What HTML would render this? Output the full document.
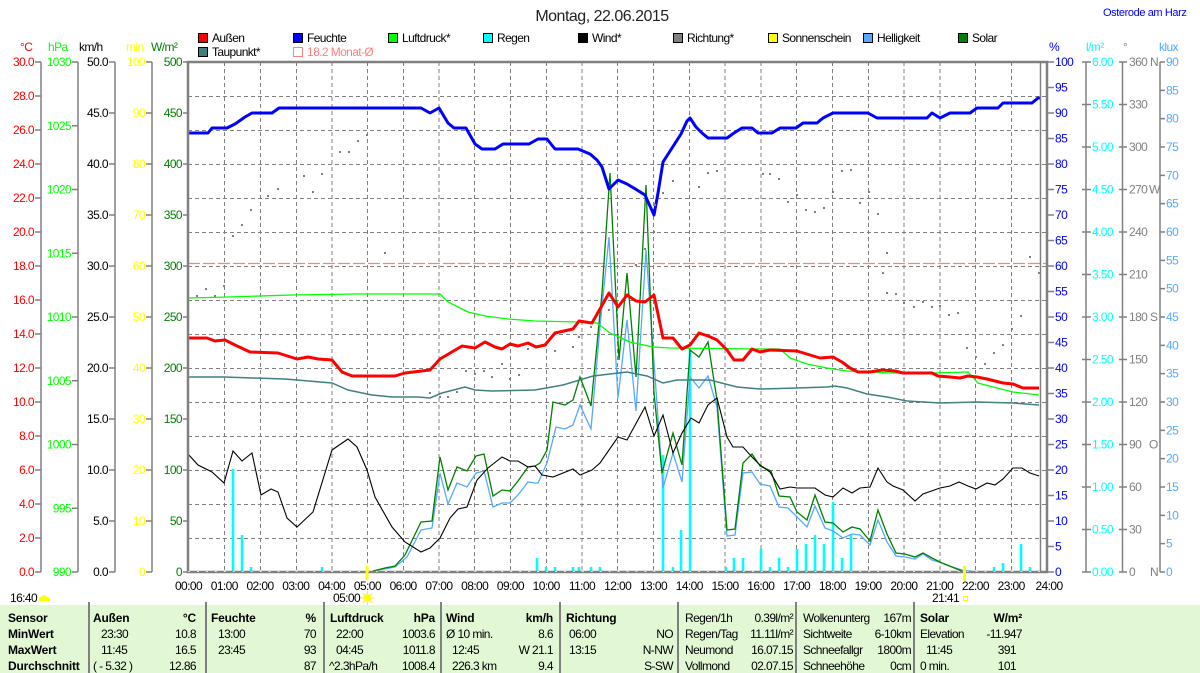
<!DOCTYPE html>
<html><head><meta charset="utf-8"><style>
html,body{margin:0;padding:0;background:#fff;}
svg{display:block;font-family:"Liberation Sans",Arial,sans-serif;}
.t{font-size:12px;letter-spacing:-0.6px;}
.b{font-size:12px;font-weight:bold;letter-spacing:-0.2px;}
</style></head><body>
<svg width="1200" height="673" viewBox="0 0 1200 673" xmlns="http://www.w3.org/2000/svg">
<rect width="1200" height="673" fill="#fff"/>
<!-- title -->
<text x="602" y="21" font-size="16" letter-spacing="-0.5" text-anchor="middle" fill="#222">Montag, 22.06.2015</text>
<text x="1103" y="16" font-size="11" letter-spacing="-0.4" fill="#0000ff">Osterode am Harz</text>
<!-- legend -->
<g class="t" fill="#000">
<rect x="198.5" y="33.5" width="9" height="9" fill="#ff0000" stroke="#000"/><text x="212" y="42">Außen</text>
<rect x="293.5" y="33.5" width="9" height="9" fill="#0000ff" stroke="#000"/><text x="307" y="42">Feuchte</text>
<rect x="388.5" y="33.5" width="9" height="9" fill="#00ff00" stroke="#000"/><text x="402" y="42">Luftdruck*</text>
<rect x="483.5" y="33.5" width="9" height="9" fill="#00ffff" stroke="#000"/><text x="497" y="42">Regen</text>
<rect x="578.5" y="33.5" width="9" height="9" fill="#000000" stroke="#000"/><text x="592" y="42">Wind*</text>
<rect x="673.5" y="33.5" width="9" height="9" fill="#808080" stroke="#000"/><text x="687" y="42">Richtung*</text>
<rect x="768.5" y="33.5" width="9" height="9" fill="#ffff00" stroke="#000"/><text x="782" y="42">Sonnenschein</text>
<rect x="863.5" y="33.5" width="9" height="9" fill="#55aaff" stroke="#000"/><text x="877" y="42">Helligkeit</text>
<rect x="958.5" y="33.5" width="9" height="9" fill="#008000" stroke="#000"/><text x="972" y="42">Solar</text>
<rect x="198.5" y="47.5" width="9" height="9" fill="#408080" stroke="#000"/><text x="212" y="56">Taupunkt*</text>
<rect x="293.5" y="47.5" width="9" height="9" fill="none" stroke="#ff8080"/><text x="307" y="56" fill="#ff8080">18.2 Monat-Ø</text>
</g>
<!-- axis headers -->
<g class="t">
<text x="20" y="51" fill="#ff0000">°C</text>
<text x="48" y="51" fill="#00ff00">hPa</text>
<text x="79" y="51" fill="#000">km/h</text>
<text x="126" y="51" fill="#ffff00">min</text>
<text x="151" y="51" fill="#008000">W/m²</text>
<text x="1049" y="51" fill="#0000ff">%</text>
<text x="1086" y="51" fill="#00ffff">l/m²</text>
<text x="1123" y="51" fill="#808080">°</text>
<text x="1159" y="51" fill="#55aaff">klux</text>
</g>
<!-- left axes lines & ticks -->
<g stroke="#808080" stroke-width="1.5" fill="none">
<path d="M41 62V572M78 62V572M115 62V572M152 62V572"/>
<path d="M35 62h6M35 96h6M35 130h6M35 164h6M35 198h6M35 232h6M35 266h6M35 300h6M35 334h6M35 368h6M35 402h6M35 436h6M35 470h6M35 504h6M35 538h6M35 572h6"/>
<path d="M72 62h6M72 125.75h6M72 189.5h6M72 253.25h6M72 317h6M72 380.75h6M72 444.5h6M72 508.25h6M72 572h6"/>
<path d="M109 62h6M109 113h6M109 164h6M109 215h6M109 266h6M109 317h6M109 368h6M109 419h6M109 470h6M109 521h6M109 572h6"/>
<path d="M146 62h6M146 113h6M146 164h6M146 215h6M146 266h6M146 317h6M146 368h6M146 419h6M146 470h6M146 521h6M146 572h6"/>
<path d="M183 62h5M183 113h5M183 164h5M183 215h5M183 266h5M183 317h5M183 368h5M183 419h5M183 470h5M183 521h5M183 572h5"/>
<!-- right -->
<path d="M1048 62h6M1048 87.5h6M1048 113h6M1048 138.5h6M1048 164h6M1048 189.5h6M1048 215h6M1048 240.5h6M1048 266h6M1048 291.5h6M1048 317h6M1048 342.5h6M1048 368h6M1048 393.5h6M1048 419h6M1048 444.5h6M1048 470h6M1048 495.5h6M1048 521h6M1048 546.5h6M1048 572h6"/>
<path d="M1086 62V572M1122.5 62V572M1160 62V572"/>
<path d="M1082 62h9M1082 104.5h9M1082 147h9M1082 189.5h9M1082 232h9M1082 274.5h9M1082 317h9M1082 359.5h9M1082 402h9M1082 444.5h9M1082 487h9M1082 529.5h9M1082 572h9"/>
<path d="M1119 62h8M1119 104.5h8M1119 147h8M1119 189.5h8M1119 232h8M1119 274.5h8M1119 317h8M1119 359.5h8M1119 402h8M1119 444.5h8M1119 487h8M1119 529.5h8M1119 572h8"/>
<path d="M1160 62h5M1160 90.33h5M1160 118.67h5M1160 147h5M1160 175.33h5M1160 203.67h5M1160 232h5M1160 260.33h5M1160 288.67h5M1160 317h5M1160 345.33h5M1160 373.67h5M1160 402h5M1160 430.33h5M1160 458.67h5M1160 487h5M1160 515.33h5M1160 543.67h5M1160 572h5"/>
</g>
<!-- left labels -->
<g class="t" fill="#ff0000" text-anchor="end">
<text x="34" y="66">30.0</text><text x="34" y="100">28.0</text><text x="34" y="134">26.0</text><text x="34" y="168">24.0</text><text x="34" y="202">22.0</text><text x="34" y="236">20.0</text><text x="34" y="270">18.0</text><text x="34" y="304">16.0</text><text x="34" y="338">14.0</text><text x="34" y="372">12.0</text><text x="34" y="406">10.0</text><text x="34" y="440">8.0</text><text x="34" y="474">6.0</text><text x="34" y="508">4.0</text><text x="34" y="542">2.0</text><text x="34" y="576">0.0</text>
</g>
<g class="t" fill="#00ff00" text-anchor="end">
<text x="71" y="66">1030</text><text x="71" y="129.75">1025</text><text x="71" y="193.5">1020</text><text x="71" y="257.25">1015</text><text x="71" y="321">1010</text><text x="71" y="384.75">1005</text><text x="71" y="448.5">1000</text><text x="71" y="512.25">995</text><text x="71" y="576">990</text>
</g>
<g class="t" fill="#000" text-anchor="end">
<text x="108" y="66">50.0</text><text x="108" y="117">45.0</text><text x="108" y="168">40.0</text><text x="108" y="219">35.0</text><text x="108" y="270">30.0</text><text x="108" y="321">25.0</text><text x="108" y="372">20.0</text><text x="108" y="423">15.0</text><text x="108" y="474">10.0</text><text x="108" y="525">5.0</text><text x="108" y="576">0.0</text>
</g>
<g class="t" fill="#ffff00" text-anchor="end">
<text x="145" y="66">100</text><text x="145" y="117">90</text><text x="145" y="168">80</text><text x="145" y="219">70</text><text x="145" y="270">60</text><text x="145" y="321">50</text><text x="145" y="372">40</text><text x="145" y="423">30</text><text x="145" y="474">20</text><text x="145" y="525">10</text><text x="145" y="576">0</text>
</g>
<g class="t" fill="#008000" text-anchor="end">
<text x="182" y="66">500</text><text x="182" y="117">450</text><text x="182" y="168">400</text><text x="182" y="219">350</text><text x="182" y="270">300</text><text x="182" y="321">250</text><text x="182" y="372">200</text><text x="182" y="423">150</text><text x="182" y="474">100</text><text x="182" y="525">50</text><text x="182" y="576">0</text>
</g>
<!-- right labels -->
<g class="t" fill="#0000ff">
<text x="1055" y="66">100</text><text x="1055" y="91.5">95</text><text x="1055" y="117">90</text><text x="1055" y="142.5">85</text><text x="1055" y="168">80</text><text x="1055" y="193.5">75</text><text x="1055" y="219">70</text><text x="1055" y="244.5">65</text><text x="1055" y="270">60</text><text x="1055" y="295.5">55</text><text x="1055" y="321">50</text><text x="1055" y="346.5">45</text><text x="1055" y="372">40</text><text x="1055" y="397.5">35</text><text x="1055" y="423">30</text><text x="1055" y="448.5">25</text><text x="1055" y="474">20</text><text x="1055" y="499.5">15</text><text x="1055" y="525">10</text><text x="1055" y="550.5">5</text><text x="1055" y="576">0</text>
</g>
<g class="t" fill="#00ffff">
<text x="1092" y="66">6.00</text><text x="1092" y="108.5">5.50</text><text x="1092" y="151">5.00</text><text x="1092" y="193.5">4.50</text><text x="1092" y="236">4.00</text><text x="1092" y="278.5">3.50</text><text x="1092" y="321">3.00</text><text x="1092" y="363.5">2.50</text><text x="1092" y="406">2.00</text><text x="1092" y="448.5">1.50</text><text x="1092" y="491">1.00</text><text x="1092" y="533.5">0.50</text><text x="1092" y="576">0.00</text>
</g>
<g class="t" fill="#808080">
<text x="1129" y="66">360</text><text x="1129" y="108.5">330</text><text x="1129" y="151">300</text><text x="1129" y="193.5">270</text><text x="1129" y="236">240</text><text x="1129" y="278.5">210</text><text x="1129" y="321">180</text><text x="1129" y="363.5">150</text><text x="1129" y="406">120</text><text x="1129" y="448.5">90</text><text x="1129" y="491">60</text><text x="1129" y="533.5">30</text><text x="1129" y="576">0</text>
<text x="1150" y="66">N</text><text x="1149" y="193.5">W</text><text x="1150" y="321">S</text><text x="1149" y="448.5">O</text><text x="1150" y="576">N</text>
</g>
<g class="t" fill="#55aaff">
<text x="1166" y="66">90</text><text x="1166" y="94.33">85</text><text x="1166" y="122.67">80</text><text x="1166" y="151">75</text><text x="1166" y="179.33">70</text><text x="1166" y="207.67">65</text><text x="1166" y="236">60</text><text x="1166" y="264.33">55</text><text x="1166" y="292.67">50</text><text x="1166" y="321">45</text><text x="1166" y="349.33">40</text><text x="1166" y="377.67">35</text><text x="1166" y="406">30</text><text x="1166" y="434.33">25</text><text x="1166" y="462.67">20</text><text x="1166" y="491">15</text><text x="1166" y="519.33">10</text><text x="1166" y="547.67">5</text><text x="1166" y="576">0</text>
</g>
<!-- grid -->
<g stroke="#808080" stroke-width="1" stroke-dasharray="4,3" fill="none">
<path d="M224.5 62V572M260.5 62V572M296.5 62V572M332 62V572M367.5 62V572M403.5 62V572M439 62V572M474.5 62V572M510.5 62V572M546.5 62V572M582 62V572M617.5 62V572M653.5 62V572M689.5 62V572M725 62V572M761 62V572M796.5 62V572M832.5 62V572M868.5 62V572M904 62V572M940 62V572M975.5 62V572M1011.5 62V572"/>
<path d="M188 96.5H1047M188 130.5H1047M188 164.5H1047M188 198.5H1047M188 232.5H1047M188 266.5H1047M188 300.5H1047M188 334.5H1047M188 368.5H1047M188 402.5H1047M188 436.5H1047M188 470.5H1047M188 504.5H1047M188 538.5H1047"/>
</g>
<path d="M188 263.5H1047" stroke="#ff8080" stroke-width="1.2" stroke-dasharray="12,3" fill="none"/>
<!-- rain bars -->
<g stroke="#00ffff" stroke-width="2.6" fill="none">
<path d="M233 572V469M242 572V535M251 572V567M322 572V567M537 572V558M546 572V567M555 572V567M573 572V567M579 572V567M591 572V567M600 572V567M663 572V455M673 572V567M681 572V530M690 572V348M726 572V567M734 572V558M743 572V558M761 572V549M770 572V567M779 572V558M788 572V567M797 572V549M806 572V544M815 572V535M824 572V544M833 572V502M842 572V558M851 572V535M994 572V567M1003 572V563M1021 572V544M1030 572V567"/>
</g>
<!-- Helligkeit -->
<polyline fill="none" stroke="#55aaff" stroke-width="1.3" points="373,571 395,567 407,557 421,530 432,528 440,473 448,504 457,483 467,487 476,473 484,471 493,507 502,503 510,503 518,495 528,482 535,483 538,483 547,463 556,427 565,429 573,425 580,405 591,429 600,327 609,237 618,398 627,320 636,411 646,250 663,488 673,453 682,482 690,377 699,388 708,376 717,407 727,536 735,535 743,473 752,472 760,484 770,486 779,507 788,508 797,517 807,527 815,506 825,528 833,531 843,538 852,534 860,535 870,545 878,520 887,542 896,556 905,557 915,559 923,554 932,560 942,563 952,567 962,570 977,572"/>
<!-- Solar -->
<polyline fill="none" stroke="#008000" stroke-width="1.3" points="373,571 385,568 395,566 405,555 421,522 432,521 440,457 448,490 457,467 467,471 476,456 484,454 493,496 502,490 510,491 518,481 528,467 535,466 540,463 547,450 553,402 565,405 573,400 580,377 591,406 602,293 610,173 619,360 627,273 636,377 646,185 654,393 662,473 673,433 682,465 690,350 699,357 708,342 717,400 727,530 735,529 743,463 752,454 760,466 771,471 779,496 790,497 797,512 807,520 815,495 825,522 833,523 843,532 852,527 860,529 870,541 878,510 887,534 896,553 905,554 915,557 923,553 932,558 942,563 952,567 962,571"/>
<!-- Luftdruck -->
<polyline fill="none" stroke="#00ff00" stroke-width="1.3" points="188,298 228,297 292,295 355,294 440,294 448,302 468,312 485,316 508,319 535,321 580,322 597,323 610,333 630,342 653,347 670,348 760,349 780,349 790,358 807,364 827,368 847,371 870,372 893,373 933,373 968,372 978,383 993,387 1013,392 1039,395"/>
<!-- Taupunkt -->
<polyline fill="none" stroke="#408080" stroke-width="1.5" points="188,377 225,377 252,378 285,379 332,383 348,390 372,395 392,397 418,397 430,398 442,393 465,387 475,390 492,391 535,390 563,385 593,376 627,372 647,376 663,383 677,380 710,380 737,387 760,389 797,388 827,387 835,386 847,388 867,394 887,397 907,401 940,403 977,402 1013,403 1039,405"/>
<!-- Wind -->
<polyline fill="none" stroke="#000" stroke-width="1.1" points="188,454 198,465 212,472 224,483 233,451 242,461 252,453 261,495 271,489 278,492 287,518 297,527 313,512 332,450 348,439 357,447 367,470 375,497 392,527 405,542 421,552 430,548 440,538 450,518 458,509 467,507 477,480 488,468 502,457 510,461 518,461 528,467 535,466 542,475 553,477 573,469 580,475 592,470 600,463 618,437 627,440 645,407 654,436 663,415 673,453 682,433 691,418 699,423 708,405 717,398 727,437 733,447 743,447 752,457 760,465 770,472 780,489 790,487 797,488 815,488 825,495 833,497 843,488 852,493 860,488 870,487 878,468 887,482 893,486 903,490 915,501 923,494 940,488 950,486 959,482 968,486 976,489 987,483 995,485 1003,479 1013,468 1022,468 1030,473 1039,476"/>
<!-- Außen -->
<polyline fill="none" stroke="#ff0000" stroke-width="3" stroke-linejoin="round" points="188,338 207,338 215,341 225,340 235,345 250,352 278,353 297,359 308,357 318,359 332,360 342,372 352,376 395,376 405,373 430,370 440,359 462,346 475,348 485,342 495,347 502,349 510,344 518,346 528,343 536,347 545,345 555,333 573,329 579,321 592,323 609,293 618,307 627,295 636,301 645,302 654,295 663,338 673,338 682,349 690,345 699,333 708,336 717,340 727,350 734,360 743,360 752,349 760,352 770,350 797,351 810,355 820,358 833,357 842,362 850,368 858,372 870,372 882,370 895,371 903,373 932,373 938,376 950,377 960,378 968,376 977,377 987,379 1003,383 1013,384 1023,388 1039,388"/>
<!-- Feuchte -->
<polyline fill="none" stroke="#0000ff" stroke-width="3" stroke-linejoin="round" points="188,133 208,133 212,128 227,128 235,124 245,117 252,113 272,113 279,108 421,108 430,113 439,108 448,123 454,128 466,128 475,144 482,149 495,149 503,144 529,144 538,139 547,139 555,149 578,149 590,154 597,160 602,167 609,189 618,180 627,184 637,190 645,195 654,215 658,193 663,162 672,148 681,134 687,121 690,118 696,127 702,133 708,138 727,138 734,133 742,128 752,128 758,133 772,133 780,128 796,128 803,123 817,123 823,118 833,113 868,113 877,118 927,118 932,113 940,118 950,113 970,113 977,108 998,108 1003,103 1032,103 1038,98 1040,98"/>
<!-- Richtung dots -->
<g fill="#808080">
<rect x="196" y="295" width="2" height="2"/><rect x="205" y="288" width="2" height="2"/><rect x="214" y="295" width="2" height="2"/><rect x="223" y="285" width="2" height="2"/><rect x="232" y="235" width="2" height="2"/><rect x="241" y="224" width="2" height="2"/><rect x="250" y="209" width="2" height="2"/><rect x="267" y="195" width="2" height="2"/><rect x="277" y="188" width="2" height="2"/><rect x="303" y="175" width="2" height="2"/><rect x="312" y="191" width="2" height="2"/><rect x="321" y="173" width="2" height="2"/><rect x="339" y="151" width="2" height="2"/><rect x="348" y="151" width="2" height="2"/><rect x="357" y="140" width="2" height="2"/><rect x="366" y="134" width="2" height="2"/><rect x="384" y="252" width="2" height="2"/><rect x="429" y="392" width="2" height="2"/><rect x="439" y="396" width="2" height="2"/><rect x="447" y="396" width="2" height="2"/><rect x="456" y="391" width="2" height="2"/><rect x="465" y="370" width="2" height="2"/><rect x="474" y="373" width="2" height="2"/><rect x="483" y="370" width="2" height="2"/><rect x="491" y="376" width="2" height="2"/><rect x="501" y="363" width="2" height="2"/><rect x="509" y="378" width="2" height="2"/><rect x="518" y="374" width="2" height="2"/><rect x="527" y="348" width="2" height="2"/><rect x="554" y="350" width="2" height="2"/><rect x="572" y="346" width="2" height="2"/><rect x="578" y="336" width="2" height="2"/><rect x="590" y="326" width="2" height="2"/><rect x="608" y="309" width="2" height="2"/><rect x="635" y="264" width="2" height="2"/><rect x="644" y="248" width="2" height="2"/><rect x="653" y="231" width="2" height="2"/><rect x="654" y="204" width="2" height="2"/><rect x="662" y="192" width="2" height="2"/><rect x="672" y="180" width="2" height="2"/><rect x="698" y="186" width="2" height="2"/><rect x="707" y="172" width="2" height="2"/><rect x="716" y="170" width="2" height="2"/><rect x="762" y="173" width="2" height="2"/><rect x="769" y="173" width="2" height="2"/><rect x="778" y="178" width="2" height="2"/><rect x="787" y="201" width="2" height="2"/><rect x="796" y="194" width="2" height="2"/><rect x="805" y="209" width="2" height="2"/><rect x="814" y="211" width="2" height="2"/><rect x="823" y="207" width="2" height="2"/><rect x="832" y="191" width="2" height="2"/><rect x="841" y="170" width="2" height="2"/><rect x="850" y="169" width="2" height="2"/><rect x="859" y="202" width="2" height="2"/><rect x="868" y="191" width="2" height="2"/><rect x="877" y="213" width="2" height="2"/><rect x="886" y="252" width="2" height="2"/><rect x="882" y="272" width="2" height="2"/><rect x="886" y="292" width="2" height="2"/><rect x="895" y="293" width="2" height="2"/><rect x="903" y="302" width="2" height="2"/><rect x="913" y="306" width="2" height="2"/><rect x="922" y="301" width="2" height="2"/><rect x="931" y="306" width="2" height="2"/><rect x="939" y="305" width="2" height="2"/><rect x="948" y="314" width="2" height="2"/><rect x="957" y="312" width="2" height="2"/><rect x="966" y="347" width="2" height="2"/><rect x="975" y="356" width="2" height="2"/><rect x="984" y="363" width="2" height="2"/><rect x="993" y="352" width="2" height="2"/><rect x="1002" y="344" width="2" height="2"/><rect x="1011" y="328" width="2" height="2"/><rect x="1020" y="315" width="2" height="2"/><rect x="1029" y="256" width="2" height="2"/><rect x="1038" y="272" width="2" height="2"/>
</g>
<!-- plot frame -->
<path d="M1040.5 62V572" stroke="#808080" stroke-width="1.5" fill="none"/>
<rect x="188" y="62" width="859" height="510" fill="none" stroke="#808080" stroke-width="2.5"/>
<path d="M188 571.5H1040" stroke="#ffff00" stroke-width="1" stroke-dasharray="2,6.95" fill="none"/>
<!-- sun markers -->
<rect x="365.5" y="566" width="3" height="14" fill="#ffff00"/>
<rect x="963" y="566" width="3" height="15" fill="#ffff00"/>
<!-- x labels -->
<g class="t" fill="#000" text-anchor="middle">
<text x="188.5" y="590">00:00</text><text x="224.3" y="590">01:00</text><text x="260" y="590">02:00</text><text x="295.8" y="590">03:00</text><text x="331.6" y="590">04:00</text><text x="367.4" y="590">05:00</text><text x="403.1" y="590">06:00</text><text x="438.9" y="590">07:00</text><text x="474.7" y="590">08:00</text><text x="510.4" y="590">09:00</text><text x="546.2" y="590">10:00</text><text x="582" y="590">11:00</text><text x="617.7" y="590">12:00</text><text x="653.5" y="590">13:00</text><text x="689.3" y="590">14:00</text><text x="725" y="590">15:00</text><text x="760.8" y="590">16:00</text><text x="796.6" y="590">17:00</text><text x="832.4" y="590">18:00</text><text x="868.1" y="590">19:00</text><text x="903.9" y="590">20:00</text><text x="939.7" y="590">21:00</text><text x="975.4" y="590">22:00</text><text x="1011.2" y="590">23:00</text><text x="1049" y="590">24:00</text>
</g>
<!-- under-axis labels -->
<g class="t" fill="#000">
<text x="10" y="602">16:40</text>
<text x="333" y="602">05:00</text>
<text x="932" y="602">21:41</text>
</g>
<path d="M39 601h11a3 3 0 0 0-3-4a3.5 3.5 0 0 0-6 0a3 3 0 0 0-2 4z" fill="#ffff00"/>
<g stroke="#ffe066" stroke-width="1"><path d="M367.5 591v14M360.5 598h14M362.5 593l10 10M372.5 593l-10 10"/></g>
<circle cx="367.5" cy="598" r="4" fill="#ffff00"/>
<rect x="963.5" y="596.5" width="4" height="4" fill="none" stroke="#ffff00"/>
<!-- table -->
<rect x="0" y="605" width="1200" height="68" fill="#e2f8d4"/>
<g stroke="#808080" stroke-width="2">
<path d="M89 602V673M206 602V673M324 602V673M441 602V673M560 602V673M678 602V673M796 602V673M914 602V673"/>
</g>
<g fill="#000">
<text class="b" x="8" y="622">Sensor</text>
<text class="b" x="8" y="638">MinWert</text>
<text class="b" x="8" y="654">MaxWert</text>
<text class="b" x="8" y="670">Durchschnitt</text>
<text class="b" x="93" y="622">Außen</text><text class="b" x="196" y="622" text-anchor="end">°C</text>
<text class="t" x="101" y="638">23:30</text><text class="t" x="196" y="638" text-anchor="end">10.8</text>
<text class="t" x="101" y="654">11:45</text><text class="t" x="196" y="654" text-anchor="end">16.5</text>
<text class="t" x="93" y="670">( - 5.32 )</text><text class="t" x="196" y="670" text-anchor="end">12.86</text>
<text class="b" x="211" y="622">Feuchte</text><text class="b" x="316" y="622" text-anchor="end">%</text>
<text class="t" x="218" y="638">13:00</text><text class="t" x="316" y="638" text-anchor="end">70</text>
<text class="t" x="218" y="654">23:45</text><text class="t" x="316" y="654" text-anchor="end">93</text>
<text class="t" x="316" y="670" text-anchor="end">87</text>
<text class="b" x="330" y="622">Luftdruck</text><text class="b" x="435" y="622" text-anchor="end">hPa</text>
<text class="t" x="336" y="638">22:00</text><text class="t" x="435" y="638" text-anchor="end">1003.6</text>
<text class="t" x="336" y="654">04:45</text><text class="t" x="435" y="654" text-anchor="end">1011.8</text>
<text class="t" x="329" y="670">^2.3hPa/h</text><text class="t" x="435" y="670" text-anchor="end">1008.4</text>
<text class="b" x="446" y="622">Wind</text><text class="b" x="553" y="622" text-anchor="end">km/h</text>
<text class="t" x="446" y="638">Ø 10 min.</text><text class="t" x="553" y="638" text-anchor="end">8.6</text>
<text class="t" x="452" y="654">12:45</text><text class="t" x="553" y="654" text-anchor="end">W 21.1</text>
<text class="t" x="452" y="670">226.3 km</text><text class="t" x="553" y="670" text-anchor="end">9.4</text>
<text class="b" x="566" y="622">Richtung</text>
<text class="t" x="569" y="638">06:00</text><text class="t" x="673" y="638" text-anchor="end">NO</text>
<text class="t" x="569" y="654">13:15</text><text class="t" x="673" y="654" text-anchor="end">N-NW</text>
<text class="t" x="673" y="670" text-anchor="end">S-SW</text>
<text class="t" x="685" y="622">Regen/1h</text><text class="t" x="793" y="622" text-anchor="end">0.39l/m²</text>
<text class="t" x="685" y="638">Regen/Tag</text><text class="t" x="793" y="638" text-anchor="end">11.11l/m²</text>
<text class="t" x="685" y="654">Neumond</text><text class="t" x="793" y="654" text-anchor="end">16.07.15</text>
<text class="t" x="685" y="670">Vollmond</text><text class="t" x="793" y="670" text-anchor="end">02.07.15</text>
<text class="t" x="803" y="622">Wolkenunterg</text><text class="t" x="911" y="622" text-anchor="end">167m</text>
<text class="t" x="803" y="638">Sichtweite</text><text class="t" x="911" y="638" text-anchor="end">6-10km</text>
<text class="t" x="803" y="654">Schneefallgr</text><text class="t" x="911" y="654" text-anchor="end">1800m</text>
<text class="t" x="803" y="670">Schneehöhe</text><text class="t" x="911" y="670" text-anchor="end">0cm</text>
<text class="b" x="920" y="622">Solar</text><text class="b" x="1022" y="622" text-anchor="end">W/m²</text>
<text class="t" x="920" y="638">Elevation</text><text class="t" x="1022" y="638" text-anchor="end">-11.947</text>
<text class="t" x="926" y="654">11:45</text><text class="t" x="1016" y="654" text-anchor="end">391</text>
<text class="t" x="920" y="670">0 min.</text><text class="t" x="1016" y="670" text-anchor="end">101</text>
</g>
</svg>
</body></html>
